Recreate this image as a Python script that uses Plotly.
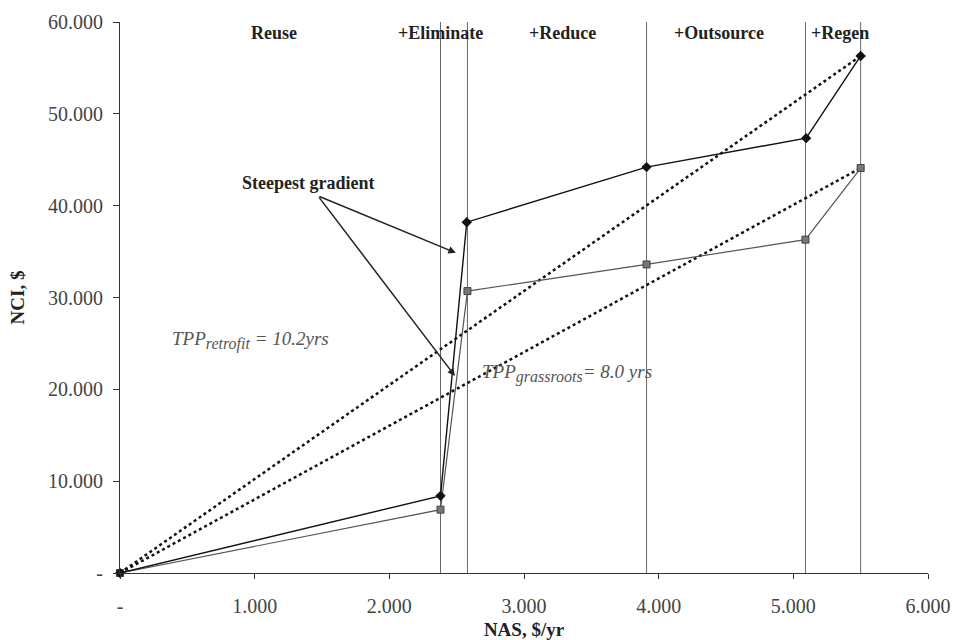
import plotly.graph_objects as go

# Data
nas_retrofit = [0, 2380, 2575, 3910, 5095, 5500]
nci_retrofit = [0, 8400, 38200, 44200, 47350, 56300]
nas_grass = [0, 2380, 2580, 3910, 5090, 5500]
nci_grass = [0, 6900, 30700, 33600, 36300, 44100]
step_bounds = [2380, 2580, 3910, 5090, 5500]
step_labels = ["Reuse", "+Eliminate", "+Reduce", "+Outsource", "+Regen"]
step_label_x = [1143, 2383, 3289, 4447, 5345]
x_ticks = [0, 1000, 2000, 3000, 4000, 5000, 6000]
x_ticklabels = ["-", "1.000", "2.000", "3.000", "4.000", "5.000", "6.000"]
y_ticks = [0, 10000, 20000, 30000, 40000, 50000, 60000]
y_ticklabels = ["-", "10.000", "20.000", "30.000", "40.000", "50.000", "60.000"]

SERIF = "Liberation Serif, Times New Roman, serif"

fig = go.Figure()

# vertical step boundaries
for xb in step_bounds:
    fig.add_trace(go.Scatter(x=[xb, xb], y=[0, 61000], mode="lines",
                             line=dict(color="#666666", width=1),
                             showlegend=False, hoverinfo="skip", cliponaxis=False))

# dotted payback lines
fig.add_trace(go.Scatter(x=[nas_retrofit[0], nas_retrofit[-1]], y=[nci_retrofit[0], nci_retrofit[-1]],
                         mode="lines", line=dict(color="#111111", width=2.5, dash="dot"),
                         showlegend=False))
fig.add_trace(go.Scatter(x=[nas_grass[0], nas_grass[-1]], y=[nci_grass[0], nci_grass[-1]],
                         mode="lines", line=dict(color="#111111", width=2.5, dash="dot"),
                         showlegend=False))

# grassroots
fig.add_trace(go.Scatter(x=nas_grass, y=nci_grass, mode="lines+markers",
                         line=dict(color="#555555", width=1.2),
                         marker=dict(symbol="square", size=7, color="#777777",
                                     line=dict(color="#444444", width=1)),
                         showlegend=False, cliponaxis=False))
# retrofit
fig.add_trace(go.Scatter(x=nas_retrofit, y=nci_retrofit, mode="lines+markers",
                         line=dict(color="#111111", width=1.4),
                         marker=dict(symbol="diamond", size=8, color="#111111"),
                         showlegend=False, cliponaxis=False))

annotations = []
for lx, lt in zip(step_label_x, step_labels):
    annotations.append(dict(x=lx, y=58800, xref="x", yref="y", text="<b>%s</b>" % lt,
                            showarrow=False, font=dict(family=SERIF, size=18, color="#222222")))

annotations.append(dict(x=1396, y=42500, xref="x", yref="y", text="<b>Steepest gradient</b>",
                        showarrow=False, font=dict(family=SERIF, size=18, color="#222222")))
for ex, ey in [(2494, 34860), (2487, 21460)]:
    annotations.append(dict(x=ex, y=ey, xref="x", yref="y", ax=1470, ay=41070,
                            axref="x", ayref="y", text="", showarrow=True,
                            arrowhead=2, arrowsize=1, arrowwidth=1.5, arrowcolor="#222222"))

annotations.append(dict(x=371, y=25300, xref="x", yref="y", xanchor="left",
                        text="<i>TPP</i><sub><span style='font-size:16px'><i>retrofit</i></span></sub><i> = 10.2yrs</i>",
                        showarrow=False, font=dict(family=SERIF, size=19, color="#555555")))
annotations.append(dict(x=2673, y=21700, xref="x", yref="y", xanchor="left",
                        text="<i>TPP</i><sub><span style='font-size:16px'><i>grassroots</i></span></sub><i>= 8.0 yrs</i>",
                        showarrow=False, font=dict(family=SERIF, size=19, color="#555555")))

fig.update_layout(
    width=957, height=640,
    margin=dict(l=120, r=29, t=22, b=67),
    plot_bgcolor="white", paper_bgcolor="white",
    annotations=annotations,
    xaxis=dict(range=[0, 6000], tickvals=x_ticks, ticktext=x_ticklabels, automargin=False,
               showgrid=False, zeroline=False, showline=True, linecolor="#333333", linewidth=1.2,
               ticks="outside", ticklen=5, tickcolor="#333333", ticklabelstandoff=10,
               tickfont=dict(family=SERIF, size=20, color="#444444"),
               title=dict(text="<b>NAS, $/yr</b>", font=dict(family=SERIF, size=19, color="#222222"),
                          standoff=10)),
    yaxis=dict(range=[0, 60000], tickvals=y_ticks, ticktext=y_ticklabels, automargin=False,
               showgrid=False, zeroline=False, showline=True, linecolor="#333333", linewidth=1.2,
               ticks="outside", ticklen=6, tickcolor="#333333", ticklabelstandoff=6,
               tickfont=dict(family=SERIF, size=20, color="#444444"),
               title=dict(text="<b>NCI, $</b>", font=dict(family=SERIF, size=19, color="#222222"),
                          standoff=18)),
)

fig.write_html("out.html")
